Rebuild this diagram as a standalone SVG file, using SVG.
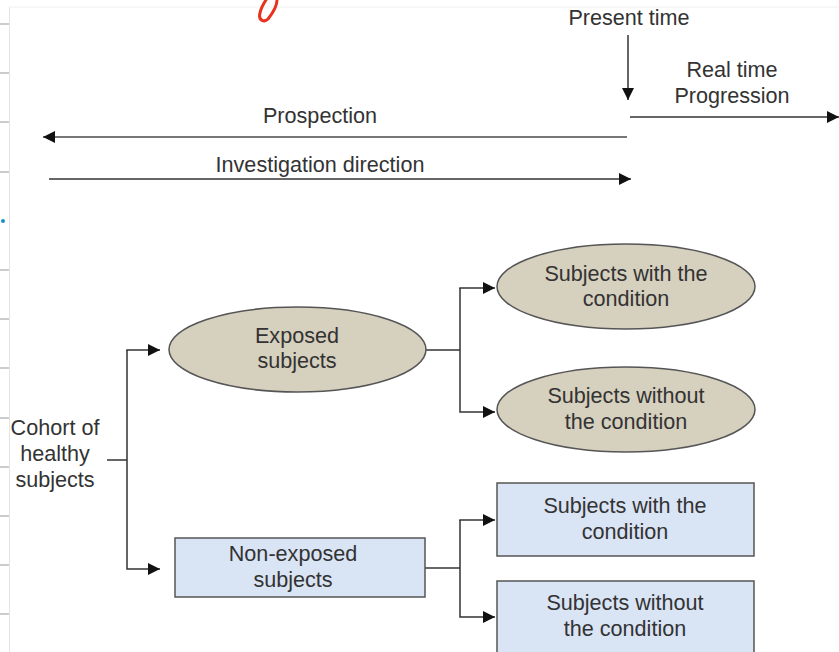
<svg xmlns="http://www.w3.org/2000/svg" width="839" height="652" viewBox="0 0 839 652">
<defs>
<style>
text{font-family:"Liberation Sans",Arial,sans-serif;font-size:21.6px;fill:#333;text-anchor:middle}
.ln{fill:none;stroke:#333;stroke-width:1.5}
.ell{fill:#d6d0be;stroke:#555;stroke-width:1.5}
.box{fill:#d9e4f5;stroke:#555;stroke-width:1.5}
.tick{stroke:#999;stroke-width:1}
</style>
<marker id="ah" viewBox="0 0 10 10" refX="10" refY="5" markerWidth="12" markerHeight="12" markerUnits="userSpaceOnUse" orient="auto">
<path d="M0,0 L10,5 L0,10 Z" fill="#111"/>
</marker>
</defs>
<rect width="839" height="652" fill="#fff"/>
<g id="page-edge">
<line x1="9.5" y1="7" x2="9.5" y2="652" stroke="#e4e4e4"/>
<line x1="9.5" y1="7" x2="839" y2="7" stroke="#f0f0f0"/>
<line class="tick" x1="0" y1="24" x2="9" y2="24"/>
<line class="tick" x1="0" y1="73" x2="9" y2="73"/>
<line class="tick" x1="0" y1="122" x2="9" y2="122"/>
<line class="tick" x1="0" y1="172" x2="9" y2="172"/>
<line class="tick" x1="0" y1="270" x2="9" y2="270"/>
<line class="tick" x1="0" y1="319" x2="9" y2="319"/>
<line class="tick" x1="0" y1="368" x2="9" y2="368"/>
<line class="tick" x1="0" y1="418" x2="9" y2="418"/>
<line class="tick" x1="0" y1="467" x2="9" y2="467"/>
<line class="tick" x1="0" y1="516" x2="9" y2="516"/>
<line class="tick" x1="0" y1="565" x2="9" y2="565"/>
<line class="tick" x1="0" y1="614" x2="9" y2="614"/>
<circle cx="3" cy="221" r="2" fill="#1a8fc9"/>
<path d="M277,0 C277,6 272,14 268,19 C264,23 258,20 260,13 C261,8 264,3 266,0" fill="none" stroke="#e8321e" stroke-width="3" stroke-linecap="round"/>
</g>
<g id="timeline">
<text x="629" y="25">Present time</text>
<text x="732" y="77">Real time</text>
<text x="732" y="103">Progression</text>
<text x="320" y="123">Prospection</text>
<text x="320" y="172">Investigation direction</text>
</g>
<g id="connectors">
<line class="ln" x1="628" y1="35" x2="628" y2="100" marker-end="url(#ah)"/>
<line class="ln" x1="630" y1="117" x2="839" y2="117" marker-end="url(#ah)"/>
<line x1="627" y1="137" x2="43" y2="137" stroke="#777" stroke-width="2" marker-end="url(#ah)"/>
<line x1="49" y1="179" x2="631" y2="179" stroke="#666" stroke-width="2" marker-end="url(#ah)"/>
<line class="ln" x1="107" y1="460" x2="127" y2="460"/>
<polyline class="ln" points="127,350 127,569 160,569" marker-end="url(#ah)"/>
<line class="ln" x1="126.25" y1="350" x2="160" y2="350" marker-end="url(#ah)"/>
<line class="ln" x1="426" y1="350" x2="460" y2="350"/>
<polyline class="ln" points="460,288 460,412 495,412" marker-end="url(#ah)"/>
<line class="ln" x1="459.25" y1="288" x2="495" y2="288" marker-end="url(#ah)"/>
<line class="ln" x1="425" y1="568" x2="460" y2="568"/>
<polyline class="ln" points="460,520 460,617 495,617" marker-end="url(#ah)"/>
<line class="ln" x1="459.25" y1="520" x2="495" y2="520" marker-end="url(#ah)"/>
</g>
<g id="cohort">
<text x="55" y="435">Cohort of</text>
<text x="55" y="461">healthy</text>
<text x="55" y="487">subjects</text>
</g>
<g id="exposed">
<ellipse class="ell" cx="297.5" cy="349.5" rx="128.5" ry="42.5"/>
<text x="297" y="343">Exposed</text>
<text x="297" y="368">subjects</text>
</g>
<g id="nonexposed">
<rect class="box" x="175" y="538" width="250" height="59"/>
<text x="293" y="561">Non-exposed</text>
<text x="293" y="587">subjects</text>
</g>
<g id="exp-with">
<ellipse class="ell" cx="626" cy="286.5" rx="129" ry="42.5"/>
<text x="626" y="281">Subjects with the</text>
<text x="626" y="306">condition</text>
</g>
<g id="exp-without">
<ellipse class="ell" cx="626" cy="409.5" rx="129" ry="42.5"/>
<text x="626" y="403">Subjects without</text>
<text x="626" y="429">the condition</text>
</g>
<g id="non-with">
<rect class="box" x="497" y="483" width="257" height="73"/>
<text x="625" y="513">Subjects with the</text>
<text x="625" y="539">condition</text>
</g>
<g id="non-without">
<rect class="box" x="497" y="581" width="257" height="80"/>
<text x="625" y="610">Subjects without</text>
<text x="625" y="636">the condition</text>
</g>
</svg>
